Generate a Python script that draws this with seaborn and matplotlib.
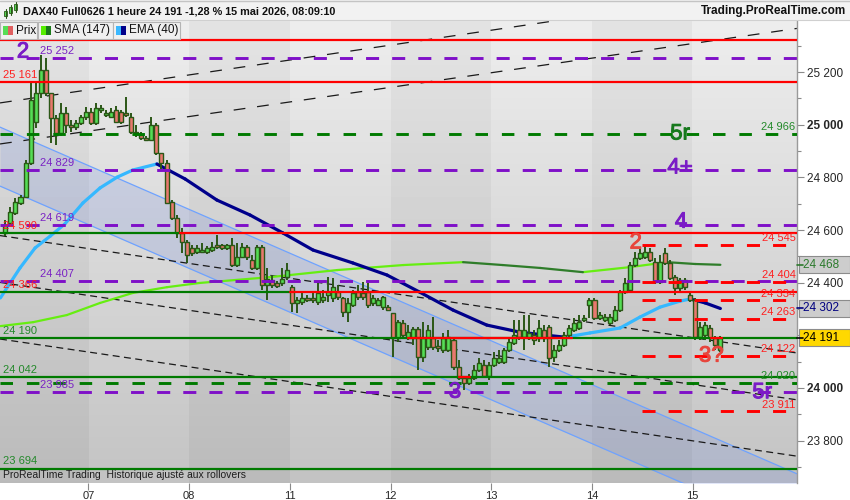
import numpy as np
import pandas as pd
import matplotlib
matplotlib.use("Agg")
import matplotlib.pyplot as plt
import matplotlib.patheffects as pe
import seaborn as sns
from matplotlib.patches import Rectangle
from matplotlib.lines import Line2D
from matplotlib.transforms import blended_transform_factory

sns.set_style("white")
plt.rcParams["font.family"] = ["Liberation Sans", "DejaVu Sans"]
plt.rcParams["lines.scale_dashes"] = False

# ---------------- data ----------------
day_labels = ["06", "07", "08", "11", "12", "13", "14", "15"]
bars_per_day = [17, 20, 20, 20, 20, 20, 20, 6]

opens = [
    24589, 24627, 24665, 24703, 24725, 24855, 25010, 25121, 25208, 25121, 25026, 24969, 25045, 24999, 24991, 25007, 25029,
    25048, 25007, 25056, 25037, 25029, 25056, 25048, 25045, 25029, 24969, 24961, 24950, 24942, 24999, 24893, 24855, 24706, 24646, 24589, 24554,
    24532, 24516, 24516, 24516, 24524, 24543, 24543, 24532, 24543, 24467, 24497, 24535, 24486, 24456, 24535, 24391, 24410, 24399, 24399, 24421,
    24383, 24323, 24326, 24342, 24342, 24326, 24334, 24353, 24342, 24364, 24342, 24288, 24315, 24364, 24361, 24364, 24323, 24315, 24307, 24307,
    24285, 24190, 24247, 24190, 24190, 24224, 24117, 24155, 24190, 24159, 24144, 24144, 24182, 24079, 24038, 24019, 24038, 24068, 24087, 24045,
    24087, 24098, 24098, 24144, 24171, 24220, 24193, 24190, 24201, 24190, 24220, 24231, 24117, 24144, 24163, 24201, 24220, 24228, 24258, 24315,
    24334, 24266, 24258, 24247, 24258, 24296, 24364, 24372, 24467, 24494, 24497, 24516, 24478, 24402, 24513, 24475, 24421, 24380, 24410, 24353,
    24334, 24193, 24201, 24228, 24190, 24144]
highs = [
    24638, 24687, 24722, 24733, 24866, 25162, 25159, 25265, 25254, 25121, 25037, 25083, 25067, 25018, 25018, 25037, 25067,
    25064, 25083, 25075, 25056, 25064, 25071, 25056, 25105, 25045, 24999, 24972, 24957, 25029, 25007, 24893, 24866, 24714, 24657, 24608, 24562,
    24543, 24543, 24551, 24539, 24554, 24581, 24547, 24547, 24570, 24551, 24551, 24543, 24505, 24543, 24543, 24456, 24429, 24406, 24456, 24475,
    24391, 24345, 24364, 24353, 24364, 24402, 24372, 24421, 24418, 24391, 24345, 24342, 24372, 24391, 24402, 24399, 24353, 24342, 24349, 24315,
    24285, 24258, 24258, 24239, 24231, 24231, 24250, 24239, 24269, 24182, 24209, 24220, 24190, 24106, 24045, 24053, 24087, 24114, 24106, 24098,
    24136, 24144, 24152, 24190, 24258, 24258, 24277, 24277, 24220, 24258, 24239, 24239, 24163, 24182, 24212, 24239, 24266, 24277, 24277, 24342,
    24342, 24288, 24281, 24281, 24311, 24372, 24418, 24478, 24516, 24532, 24543, 24532, 24494, 24505, 24532, 24486, 24429, 24418, 24418, 24364,
    24342, 24250, 24250, 24239, 24197, 24197]
lows = [
    24577, 24619, 24657, 24695, 24722, 24847, 24988, 25102, 25109, 24931, 24923, 24957, 24969, 24972, 24980, 24999, 25018,
    24999, 24999, 25045, 25029, 25026, 25010, 25003, 25029, 24965, 24953, 24942, 24938, 24938, 24885, 24828, 24699, 24638, 24570, 24513, 24475,
    24501, 24509, 24513, 24509, 24516, 24528, 24524, 24524, 24459, 24459, 24494, 24486, 24448, 24448, 24372, 24334, 24380, 24380, 24387, 24410,
    24288, 24285, 24315, 24326, 24323, 24315, 24323, 24326, 24326, 24334, 24269, 24250, 24307, 24334, 24334, 24304, 24311, 24311, 24296, 24292,
    24117, 24174, 24193, 24182, 24163, 24068, 24098, 24144, 24144, 24136, 24133, 24136, 24068, 24030, 23992, 24011, 24030, 24060, 24038, 24030,
    24079, 24091, 24091, 24136, 24163, 24182, 24144, 24182, 24163, 24174, 24174, 24079, 24098, 24136, 24155, 24190, 24212, 24220, 24250, 24266,
    24258, 24258, 24250, 24239, 24250, 24288, 24357, 24364, 24459, 24486, 24490, 24478, 24395, 24395, 24467, 24410, 24353, 24364, 24372, 24326,
    24182, 24182, 24182, 24174, 24144, 24136]
closes = [
    24619, 24668, 24706, 24725, 24855, 25094, 25121, 25208, 25121, 25026, 24969, 25045, 24999, 24991, 25007, 25029, 25048,
    25007, 25064, 25064, 25045, 25048, 25010, 25010, 25037, 24972, 24972, 24950, 24942, 24999, 24893, 24855, 24703, 24646, 24589, 24554, 24505,
    24513, 24532, 24524, 24532, 24535, 24535, 24532, 24543, 24467, 24497, 24535, 24497, 24456, 24535, 24391, 24414, 24391, 24387, 24414, 24448,
    24323, 24334, 24342, 24334, 24334, 24361, 24345, 24364, 24383, 24345, 24288, 24323, 24361, 24345, 24345, 24315, 24342, 24334, 24345, 24296,
    24190, 24250, 24201, 24212, 24224, 24117, 24190, 24220, 24155, 24152, 24190, 24193, 24079, 24038, 24019, 24038, 24068, 24095, 24045, 24087,
    24114, 24114, 24144, 24174, 24201, 24193, 24220, 24209, 24182, 24228, 24190, 24114, 24144, 24163, 24201, 24228, 24247, 24250, 24266, 24334,
    24266, 24277, 24269, 24269, 24296, 24364, 24399, 24467, 24494, 24513, 24516, 24486, 24402, 24478, 24475, 24418, 24380, 24410, 24383, 24334,
    24193, 24231, 24239, 24190, 24163, 24191]

# moving averages read at sample bars
sma_x = [-1, 5.5, 12.2, 18.8, 25.3, 32.1, 38.6, 52.5, 65.9, 79, 90.9, 98.8, 106.2, 114.7, 124, 131.4, 137, 142]
sma_v = [24235, 24250, 24277, 24323, 24361, 24383, 24399, 24421, 24448, 24467, 24478, 24467, 24456, 24440, 24459, 24478, 24471, 24468]
ema_x = [-1, 2.9, 5.9, 8.9, 11.8, 15.4, 18.8, 22.2, 25.3, 30.1, 35.7, 42, 48.6, 55.1, 61.1, 69, 75.8, 82.3, 88.9,
         95.6, 102.2, 107.2, 111.1, 116.1, 122.1, 126, 130, 134, 136, 139, 142]
ema_v = [24342, 24456, 24532, 24577, 24623, 24703, 24760, 24801, 24828, 24851, 24794, 24714, 24657, 24589, 24524, 24475, 24429, 24364, 24296,
         24239, 24212, 24201, 24193, 24209, 24228, 24269, 24307, 24330, 24338, 24323, 24302]

# regression channel (two anchor bars)
chan_x = [-1.07, 157.2]
chan_upper = [24991, 23674]
chan_lower = [24767, 23450]

# dashed trend lines: (bar0, price0, bar1, price1, long dashes?)
trend_lines = [(-1.07, 25083, 157.2, 25531, True),
               (-1.07, 24927, 157.2, 25366, True),
               (-1.07, 24579, 157.2, 24133, False),
               (-1.07, 24401, 157.2, 23955, False),
               (-1.07, 24186, 157.2, 23741, False)]

red_full = [25322, 25161]
red_segments = [(24590, 34.7, 157.2), (24366, 56.5, 157.2), (24190, 80, 112.6), (24042, 90.1, 92.3), (24190, 140.2, 142.4)]
green_segments = [(24590, -1.07, 34.7), (24366, -1.07, 56.5)]
green_full = [24190, 24042, 23694]
green_dashed = [24966, 24020]
purple_dashed = [25252, 24829, 24619, 24407, 23985]
red_dashed = [24545, 24404, 24334, 24263, 24122, 23911]
red_dashed_start = 126.4

left_labels = [(25161, "red"), (24590, "red"), (24366, "red"), (24190, "green"), (24042, "green"), (23694, "green")]
purple_labels = [25252, 24829, 24619, 24407, 23985]
right_labels = [(24966, "green"), (24545, "red"), (24404, "red"), (24334, "red"), (24263, "red"),
                (24122, "red"), (24020, "green"), (23911, "red")]
wave_labels = [("2", "purple", 3.5, 25276), ("5r", "green", 134, 24965), ("4+", "purple", 134, 24836),
               ("4", "purple", 134.2, 24630), ("2", "red", 125.2, 24551), ("3?", "red", 140.2, 24121),
               ("3", "purple", 89.3, 23984), ("5r", "purple", 150.3, 23982)]

last_price = 24191
sma_last = 24468
ema_last = 24302

# ---------------- styles ----------------
RED = "#ff0000"
RED_TXT = "#ff1f1f"
RED_BIG = "#e8453c"
GREEN = "#007a00"
GREEN_TXT = "#23892a"
PURPLE = "#7f10c8"
PURPLE_TXT = "#7a22c4"
BULL = "#55dd55"
BEAR = "#e8786e"
EDGE = "#2b5717"
colors = {"red": RED_TXT, "green": GREEN_TXT, "purple": PURPLE_TXT}
big_colors = {"red": RED_BIG, "green": "#16791c", "purple": "#7a1cc6"}

W, H = 850, 500
fig = plt.figure(figsize=(W / 100, H / 100), dpi=100)
fig.patch.set_facecolor("white")
ax = fig.add_axes([0, 17 / H, 797 / W, 463 / H])
X0, X1 = -1.0725, 157.22
Y0, Y1 = 23639, 25398

# background: day bands + vertical gradient
n = len(closes)
idx = np.arange(n)
day_start = np.cumsum([0] + bars_per_day[:-1])
xs = np.linspace(X0, X1, 1600)
band = np.clip(np.searchsorted(day_start - 0.5, xs, side="right") - 1, 0, None)
dark = (band % 2 == 0).astype(float)
t = np.linspace(0, 1, 400)[:, None]
img = (0.93 - 0.165 * t) - 0.035 * dark[None, :]
ax.imshow(img, cmap="gray", vmin=0, vmax=1, extent=[X0, X1, Y0, Y1], origin="upper",
          aspect="auto", zorder=0, interpolation="nearest")

# channel
ax.fill_between(chan_x, chan_lower, chan_upper, color="#6a86e0", alpha=0.2, lw=0, zorder=1)
ax.plot(chan_x, chan_upper, color="#6ea2ff", lw=0.9, zorder=1.5)
ax.plot(chan_x, chan_lower, color="#6ea2ff", lw=0.9, zorder=1.5)

for x0, p0, x1, p1, longd in trend_lines:
    ax.plot([x0, x1], [p0, p1], color="#1a1a1a", lw=0.9, zorder=2,
            dashes=(8.5, 8.5) if longd else (5, 3.2))

# moving averages (coloured by slope) via seaborn
def seg_frame(xv, yv, name):
    rows = []
    for k in range(len(xv) - 1):
        tr = "up" if yv[k + 1] >= yv[k] else "down"
        rows.append((xv[k], yv[k], f"{name}{k}", tr))
        rows.append((xv[k + 1], yv[k + 1], f"{name}{k}", tr))
    return pd.DataFrame(rows, columns=["x", "y", "seg", "trend"])

sns.lineplot(data=seg_frame(sma_x, sma_v, "s"), x="x", y="y", hue="trend", units="seg", estimator=None,
             palette={"up": "#66ee11", "down": "#2f7d2a"}, lw=1.6, legend=False, sort=False, ax=ax,
             zorder=3, solid_capstyle="round")
sns.lineplot(data=seg_frame(ema_x, ema_v, "e"), x="x", y="y", hue="trend", units="seg", estimator=None,
             palette={"up": "#35b8ff", "down": "#00008b"}, lw=2.3, legend=False, sort=False, ax=ax,
             zorder=3, solid_capstyle="round")

# candles
o = np.array(opens); c = np.array(closes); hi = np.array(highs); lo = np.array(lows)
up = c >= o
ax.vlines(idx, lo, hi, color=EDGE, lw=1.4, zorder=4)
body_h = np.maximum(np.abs(c - o), 4)
ax.bar(idx, body_h, bottom=np.minimum(o, c), width=0.8, color=np.where(up, BULL, BEAR),
       edgecolor=EDGE, linewidth=1.0, zorder=4.5)

# horizontal levels
for v in red_full:
    ax.axhline(v, color=RED, lw=1.6, zorder=5)
for v in green_full:
    ax.axhline(v, color=GREEN, lw=1.6, zorder=5)
for v, a, b in green_segments:
    ax.plot([a, b], [v, v], color=GREEN, lw=1.6, zorder=5)
for v, a, b in red_segments:
    ax.plot([a, b], [v, v], color=RED, lw=1.6, zorder=5.1)
for v in green_dashed:
    ax.axhline(v, color=GREEN, lw=2.1, dashes=(9, 10), zorder=5)
for k, v in enumerate(purple_dashed):
    ax.plot([X0, X1], [v, v], color=PURPLE, lw=2.1, dashes=(9.4, 9.4), zorder=5)
for v in red_dashed:
    ax.plot([red_dashed_start, X1], [v, v], color=RED, lw=2.1, dashes=(9.4, 9.4), zorder=5.2)

fmt = lambda v: f"{v:,}".replace(",", " ")
for v, col in left_labels:
    ax.annotate(fmt(v), (-0.55, v), xytext=(0, 1.5), textcoords="offset points", ha="left", va="bottom",
                fontsize=8, color=colors[col], zorder=7)
for v in purple_labels:
    ax.annotate(fmt(v), (6.9, v), xytext=(0, 1.5), textcoords="offset points", ha="left", va="bottom",
                fontsize=8, color=PURPLE_TXT, zorder=7)
for v, col in right_labels:
    ax.annotate(fmt(v), (156.9, v), xytext=(0, 1.0), textcoords="offset points", ha="right", va="bottom",
                fontsize=8, color=colors[col], zorder=7)
for txt, col, x, v in wave_labels:
    ax.text(x, v, txt, ha="center", va="center", fontsize=16, color=big_colors[col], zorder=7,
            path_effects=[pe.withStroke(linewidth=0.7, foreground=big_colors[col])])

ax.text(-0.55, 23650, "ProRealTime Trading  Historique ajusté aux rollovers", fontsize=7.5,
        color="#1e1e1e", ha="left", va="bottom", zorder=7)

ax.set_xlim(X0, X1)
ax.set_ylim(Y0, Y1)
ax.set_xlabel("")
ax.set_ylabel("")

# axes / ticks
for s in ["top", "left", "bottom"]:
    ax.spines[s].set_visible(False)
ax.spines["right"].set_color("#9a9a9a")
ax.spines["right"].set_linewidth(1)
ax.yaxis.tick_right()
yt = [23800, 24000, 24200, 24400, 24600, 24800, 25000, 25200]
ax.set_yticks(yt)
ax.set_yticklabels(["" if v == 24200 else fmt(v) for v in yt])
ax.set_yticks(np.arange(23700, 25400, 100), minor=True)
for lab, v in zip(ax.get_yticklabels(), yt):
    if v % 1000 == 0:
        lab.set_fontweight("bold")
ax.tick_params(axis="y", which="major", length=5, width=0.8, color="#8a8a8a", labelsize=8.5, pad=2.5,
               right=True, left=False, labelright=True, labelleft=False)
ax.tick_params(axis="y", which="minor", length=3, width=0.8, color="#8a8a8a", right=True, left=False)
ax.set_xticks(day_start[1:] - 0.5)
ax.set_xticklabels(day_labels[1:])
ax.tick_params(axis="x", length=5, width=0.8, color="#8a8a8a", labelsize=8, pad=1, bottom=True)

# value boxes on the price axis
bt = blended_transform_factory(ax.transAxes, ax.transData)
for v, fc, tc in [(sma_last, "#cdcdcd", "#2c7a2c"), (ema_last, "#cdcdcd", "#000080"), (last_price, "#ffd800", "#000000")]:
    ax.add_patch(Rectangle((1.0025, v - 33), 51 / 797, 66, transform=bt, fc=fc, ec="#8c8c8c", lw=0.8,
                           clip_on=False, zorder=20))
    ax.plot([1.0, 1.0075], [v, v], transform=bt, color=tc, lw=1.2, clip_on=False, zorder=21)
    ax.text(1.008, v, fmt(v), transform=bt, fontsize=8.5, color=tc, ha="left", va="center",
            clip_on=False, zorder=22)

# header
def fx(px):
    return px / W
def fy(py):
    return 1 - py / H

fig.patches.append(Rectangle((0, fy(20)), 1, 20 / H, transform=fig.transFigure, fc="#f2f2f2",
                             ec="none", zorder=0))
fig.add_artist(Line2D([0, 1], [fy(0.5), fy(0.5)], color="#c4c4c4", lw=1))
fig.add_artist(Line2D([0, 1], [fy(20), fy(20)], color="#d0d0d0", lw=0.8))
# tiny candle icon
for (x0, y0, hgt) in [(4, 11, 5), (9, 7, 6), (14, 4, 6)]:
    fig.add_artist(Line2D([fx(x0 + 1.5)] * 2, [fy(y0 - 2), fy(y0 + hgt + 2)], color=EDGE, lw=0.8))
    fig.patches.append(Rectangle((fx(x0), fy(y0 + hgt)), 3 / W, hgt / H, transform=fig.transFigure,
                                 fc=BULL, ec=EDGE, lw=0.6))
fig.text(fx(23), fy(11), "DAX40 Full0626 1 heure 24 191 -1,28 % 15 mai 2026, 08:09:10", fontsize=7.8,
         fontweight="bold", ha="left", va="center", color="#111111")
fig.text(fx(846), fy(11), "Trading.ProRealTime.com", fontsize=8.5, fontweight="bold", ha="right",
         va="center", color="#111111")

legend_boxes = [("Prix", 0, 37, BULL, "#e06060"), ("SMA (147)", 38, 113, "#55ee00", "#1a7a1a"),
                ("EMA (40)", 113, 180, "#3ab8ff", "#00008b")]
for lab, x0, x1, c1, c2 in legend_boxes:
    fig.patches.append(Rectangle((fx(x0), fy(39)), (x1 - x0) / W, 17 / H, transform=fig.transFigure,
                                 fc="#f0f0f0", ec="#b4b4b4", lw=0.8, zorder=30))
    fig.patches.append(Rectangle((fx(x0 + 3), fy(35)), 5 / W, 9 / H, transform=fig.transFigure,
                                 fc=c1, ec="none", zorder=31))
    fig.patches.append(Rectangle((fx(x0 + 8), fy(35)), 5 / W, 9 / H, transform=fig.transFigure,
                                 fc=c2, ec="none", zorder=31))
    fig.text(fx(x0 + 16), fy(30.5), lab, fontsize=8.5, ha="left", va="center", color="#111111", zorder=32)

fig.savefig("out.png", dpi=100)
